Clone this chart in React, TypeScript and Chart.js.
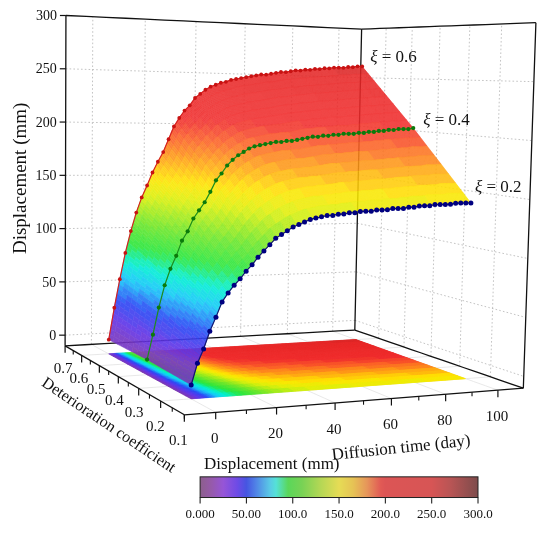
import React, { useEffect, useRef } from 'react';
import { Chart, registerables } from 'chart.js';

Chart.register(...registerables);

// ---- values ----
const timeDays = [
  0, 2, 4, 6, 8, 10, 12, 14, 16, 18, 20, 22, 24, 26, 28, 30, 32, 34, 36, 38, 40, 42, 44, 46, 48, 50,
  52, 54, 56, 58, 60, 62, 64, 66, 68, 70, 72, 74, 76, 78, 80, 82, 84, 86, 88, 90, 92, 94, 96, 98, 100,
];
const xiLevels = [0.2, 0.4, 0.6];
const dispXi02 = [
  1, 18, 29, 43, 54, 66, 73, 79, 84, 90, 95, 101, 106, 111, 116, 119, 122, 125, 127, 129, 131, 132,
  133, 134, 134, 135, 135, 136, 136, 137, 137, 137, 138, 138, 138, 139, 139, 139, 140, 140, 141, 141,
  141, 142, 142, 142, 142, 143, 143, 143, 143,
];
const dispXi04 = [
  3, 24, 47, 66, 80, 91, 104, 112, 123, 130, 137, 146, 156, 162, 169, 174, 178, 181, 184, 186, 187, 188,
  189, 190, 190, 191, 191, 192, 193, 194, 195, 195, 196, 196, 197, 197, 198, 198, 198, 199, 199, 200,
  200, 201, 201, 202, 202, 203, 203, 203, 204,
];
const dispXi06 = [
  3, 32, 58, 82, 102, 119, 133, 144, 156, 166, 175, 187, 199, 207, 214, 219, 226, 230, 234, 237, 239, 241,
  242, 244, 245, 246, 247, 248, 249, 250, 250, 251, 252, 253, 253, 254, 255, 255, 256, 256, 257, 257,
  258, 258, 259, 259, 259, 260, 260, 261, 261,
];

const zTicks = [0, 50, 100, 150, 200, 250, 300];
const zGridLevels = [0, 50, 100, 150, 200, 250];
const timeTicks = [0, 20, 40, 60, 80, 100];
const timeMinorTicks = [-10, 10, 30, 50, 70, 90];
const xiTicks = [0.1, 0.2, 0.3, 0.4, 0.5, 0.6, 0.7];
const xiMinorTicks = [0.15, 0.25, 0.35, 0.45, 0.55, 0.65];
const colorbarTicks = [0, 50, 100, 150, 200, 250, 300];
const colorbarLabels = ['0.000', '50.00', '100.0', '150.0', '200.0', '250.0', '300.0'];

const surfaceRows = [dispXi02, dispXi04, dispXi06];

const curves = [
  { xi: 0.6, values: dispXi06, line: '#d42020', point: '#c81212', radius: 1.9, label: [8, -9] },
  { xi: 0.4, values: dispXi04, line: '#1c8c1c', point: '#0b7a0b', radius: 2.1, label: [10, -8] },
  { xi: 0.2, values: dispXi02, line: '#14146e', point: '#000080', radius: 2.5, label: [4, -15] },
];

// ---- box / camera (view units = page pixels) ----
const T_RANGE = [-10, 110];
const XI_RANGE = [0.1, 0.7];
const Z_RANGE = [-10, 300];
// floor corners: (tMin,xiMin) (tMax,xiMin) (tMax,xiMax) (tMin,xiMax)
const FLOOR = [[183, 417], [527, 390], [356, 331], [62, 347]];
const NEAR_HEIGHT = 416;
const VERT_VANISH = [25, 15000];

function makeHomography(p: number[][]) {
  const [[x0, y0], [x1, y1], [x2, y2], [x3, y3]] = p;
  const dx1 = x1 - x2, dx2 = x3 - x2, dx3 = x0 - x1 + x2 - x3;
  const dy1 = y1 - y2, dy2 = y3 - y2, dy3 = y0 - y1 + y2 - y3;
  const den = dx1 * dy2 - dy1 * dx2;
  const g = (dx3 * dy2 - dy3 * dx2) / den;
  const h = (dx1 * dy3 - dy1 * dx3) / den;
  return {
    a: x1 - x0 + g * x1, b: x3 - x0 + h * x3, c: x0,
    d: y1 - y0 + g * y1, e: y3 - y0 + h * y3, f: y0, g, h,
  };
}
const H = makeHomography(FLOOR);

function project(t: number, xi: number, z: number) {
  const u = (t - T_RANGE[0]) / (T_RANGE[1] - T_RANGE[0]);
  const v = (xi - XI_RANGE[0]) / (XI_RANGE[1] - XI_RANGE[0]);
  const w = 1 + H.g * u + H.h * v;
  const fx = (H.a * u + H.b * v + H.c) / w;
  const fy = (H.d * u + H.e * v + H.f) / w;
  const hz = ((z - Z_RANGE[0]) / (Z_RANGE[1] - Z_RANGE[0])) * NEAR_HEIGHT / w;
  const lean = (fx - VERT_VANISH[0]) / (VERT_VANISH[1] - fy);
  return { x: fx + lean * hz, y: fy - hz, depth: w };
}

// ---- colour maps ----
const SURFACE_MAP = [
  [0, 125, 55, 175], [20, 100, 50, 230], [40, 40, 70, 245], [60, 20, 200, 250], [75, 0, 240, 210],
  [90, 40, 230, 60], [110, 110, 230, 40], [135, 220, 240, 10], [150, 255, 230, 0], [170, 255, 160, 20],
  [190, 250, 90, 40], [205, 240, 45, 45], [250, 232, 40, 40], [300, 160, 35, 35],
];
const BAR_MAP = [
  [0, 140, 95, 140], [12, 150, 90, 170], [25, 150, 85, 215], [40, 110, 75, 230], [50, 70, 85, 225],
  [60, 80, 130, 230], [75, 90, 200, 230], [82, 85, 225, 215], [95, 90, 215, 90], [110, 120, 210, 85],
  [130, 180, 215, 85], [150, 230, 220, 85], [165, 230, 195, 85], [180, 230, 150, 90], [195, 225, 90, 85],
  [200, 220, 85, 85], [250, 215, 85, 85], [270, 185, 85, 85], [300, 125, 75, 75],
];

function colorAt(map: number[][], val: number) {
  if (val <= map[0][0]) return `rgb(${map[0][1]},${map[0][2]},${map[0][3]})`;
  for (let i = 1; i < map.length; i++) {
    if (val <= map[i][0]) {
      const a = map[i - 1], b = map[i];
      const k = (val - a[0]) / (b[0] - a[0]);
      const c = [1, 2, 3].map((n) => Math.round(a[n] + (b[n] - a[n]) * k));
      return `rgb(${c[0]},${c[1]},${c[2]})`;
    }
  }
  const l = map[map.length - 1];
  return `rgb(${l[1]},${l[2]},${l[3]})`;
}
const bandColor = (z: number) => colorAt(SURFACE_MAP, Math.floor(z / 5) * 5 + 2.5);

// surface cells between the measured curves (sub-divided only for shading)
function buildCells() {
  const cells: { corners: { t: number; xi: number; z: number }[]; zMean: number; depth: number }[] = [];
  const NX = 8, NT = 6;
  for (let j = 0; j < xiLevels.length - 1; j++) {
    const za = surfaceRows[j], zb = surfaceRows[j + 1];
    for (let i = 0; i < timeDays.length - 1; i++) {
      const t0 = timeDays[i], t1 = timeDays[i + 1];
      for (let a = 0; a < NX; a++) {
        for (let b = 0; b < NT; b++) {
          const corners = [
            [b / NT, a / NX], [(b + 1) / NT, a / NX], [(b + 1) / NT, (a + 1) / NX], [b / NT, (a + 1) / NX],
          ].map(([r, s]) => {
            const zl = za[i] + (za[i + 1] - za[i]) * r;
            const zh = zb[i] + (zb[i + 1] - zb[i]) * r;
            return {
              t: t0 + (t1 - t0) * r,
              xi: xiLevels[j] + (xiLevels[j + 1] - xiLevels[j]) * s,
              z: zl + (zh - zl) * s,
            };
          });
          const zMean = corners.reduce((s, c) => s + c.z, 0) / 4;
          const tm = corners.reduce((s, c) => s + c.t, 0) / 4;
          const xm = corners.reduce((s, c) => s + c.xi, 0) / 4;
          cells.push({ corners, zMean, depth: project(tm, xm, Z_RANGE[0]).depth });
        }
      }
    }
  }
  cells.sort((p, q) => q.depth - p.depth);
  return cells;
}

const FONT = '"Liberation Serif", "Times New Roman", serif';

const scenePlugin = {
  id: 'scene3d',
  beforeDatasetsDraw(chart: any) {
    const ctx: CanvasRenderingContext2D = chart.ctx;
    const xs = chart.scales.x, ys = chart.scales.y;
    const P = (t: number, xi: number, z: number) => {
      const p = project(t, xi, z);
      return { x: xs.getPixelForValue(p.x), y: ys.getPixelForValue(p.y) };
    };
    const path3d = (fn: (k: number) => number[], color: string, width: number, dash: number[] = [], n = 16) => {
      ctx.save();
      ctx.beginPath();
      ctx.strokeStyle = color;
      ctx.lineWidth = width;
      ctx.setLineDash(dash);
      for (let k = 0; k <= n; k++) {
        const [t, xi, z] = fn(k / n);
        const p = P(t, xi, z);
        if (k === 0) ctx.moveTo(p.x, p.y); else ctx.lineTo(p.x, p.y);
      }
      ctx.stroke();
      ctx.restore();
    };
    const [t0, t1] = T_RANGE, [x0, x1] = XI_RANGE, [z0, z1] = Z_RANGE;
    const grid = '#b4b4b4';
    const dots = [1.6, 2.2];

    // floor grid
    timeTicks.forEach((t) => path3d((k) => [t, x0 + (x1 - x0) * k, z0], '#e2e2e2', 0.8));
    xiTicks.slice(1, -1).forEach((xi) => path3d((k) => [t0 + (t1 - t0) * k, xi, z0], '#e2e2e2', 0.8));
    // back-left wall grid
    zGridLevels.forEach((z) => path3d((k) => [t0 + (t1 - t0) * k, x1, z], grid, 0.8, dots));
    timeTicks.forEach((t) => path3d((k) => [t, x1, z0 + (z1 - z0) * k], grid, 0.8, dots));
    // right wall grid
    zGridLevels.forEach((z) => path3d((k) => [t1, x1 + (x0 - x1) * k, z], grid, 0.8, dots));
    xiTicks.slice(1, -1).forEach((xi) => path3d((k) => [t1, xi, z0 + (z1 - z0) * k], grid, 0.8, dots));

    // box edges at the back
    const edge = '#111';
    path3d((k) => [t0, x1, z0 + (z1 - z0) * k], edge, 1.3, [], 2);
    path3d((k) => [t1, x1, z0 + (z1 - z0) * k], edge, 1.3, [], 2);
    path3d((k) => [t1, x0, z0 + (z1 - z0) * k], edge, 1.3, [], 2);
    path3d((k) => [t0 + (t1 - t0) * k, x1, z1], edge, 1.3);
    path3d((k) => [t1, x1 + (x0 - x1) * k, z1], edge, 1.3);
    path3d((k) => [t0 + (t1 - t0) * k, x1, z0], edge, 1.3);
    path3d((k) => [t1, x1 + (x0 - x1) * k, z0], edge, 1.3);

    const cells = buildCells();
    const fillCell = (c2: CanvasRenderingContext2D, cell: any, onFloor: boolean) => {
      const col = bandColor(cell.zMean);
      c2.beginPath();
      cell.corners.forEach((c: any, i: number) => {
        const p = P(c.t, c.xi, onFloor ? z0 : c.z);
        if (i === 0) c2.moveTo(p.x, p.y); else c2.lineTo(p.x, p.y);
      });
      c2.closePath();
      c2.fillStyle = col;
      c2.strokeStyle = col;
      c2.lineWidth = 0.6;
      c2.fill();
      c2.stroke();
    };

    // projection map on the floor
    ctx.save();
    cells.forEach((cell) => fillCell(ctx, cell, true));
    ctx.restore();

    // translucent surface (drawn opaque off-screen, then blended)
    const dpr = chart.currentDevicePixelRatio || 1;
    const off = document.createElement('canvas');
    off.width = chart.canvas.width;
    off.height = chart.canvas.height;
    const octx = off.getContext('2d') as CanvasRenderingContext2D;
    octx.setTransform(dpr, 0, 0, dpr, 0, 0);
    cells.forEach((cell) => fillCell(octx, cell, false));
    ctx.save();
    ctx.setTransform(1, 0, 0, 1, 0, 0);
    ctx.globalAlpha = 0.91;
    ctx.drawImage(off, 0, 0);
    ctx.restore();
  },
  afterDatasetsDraw(chart: any) {
    const ctx: CanvasRenderingContext2D = chart.ctx;
    const xs = chart.scales.x, ys = chart.scales.y;
    const V = (x: number, y: number) => ({ x: xs.getPixelForValue(x), y: ys.getPixelForValue(y) });
    const P = (t: number, xi: number, z: number) => {
      const p = project(t, xi, z);
      return V(p.x, p.y);
    };
    const [t0, t1] = T_RANGE, [x0, x1] = XI_RANGE, [z0] = Z_RANGE;
    const seg = (a: any, b: any, color = '#111', width = 1.3) => {
      ctx.save();
      ctx.beginPath();
      ctx.strokeStyle = color;
      ctx.lineWidth = width;
      ctx.moveTo(a.x, a.y);
      ctx.lineTo(b.x, b.y);
      ctx.stroke();
      ctx.restore();
    };
    const text = (s: string, x: number, y: number, size: number, align: CanvasTextAlign = 'center', angle = 0, italic = false) => {
      ctx.save();
      ctx.translate(x, y);
      ctx.rotate((angle * Math.PI) / 180);
      ctx.font = `${italic ? 'italic ' : ''}${size}px ${FONT}`;
      ctx.fillStyle = '#111';
      ctx.textAlign = align;
      ctx.textBaseline = 'middle';
      ctx.fillText(s, 0, 0);
      ctx.restore();
    };

    // front axes
    seg(P(t0, x1, z0), P(t0, x0, z0));
    seg(P(t0, x0, z0), P(t1, x0, z0));

    // time axis
    timeTicks.forEach((t) => {
      const p = P(t, x0, z0);
      seg(p, { x: p.x, y: p.y + 7 }, '#111', 1.2);
      text(String(t), p.x - 1, p.y + 27, 15);
    });
    timeMinorTicks.forEach((t) => {
      const p = P(t, x0, z0);
      seg(p, { x: p.x, y: p.y + 4 }, '#111', 1.1);
    });
    const tl = V(403, 451);
    text('Diffusion time (day)', tl.x, tl.y, 17, 'center', -6);

    // deterioration coefficient axis
    xiTicks.forEach((xi) => {
      const p = P(t0, xi, z0);
      const near = (XI_RANGE[1] - xi) / (XI_RANGE[1] - XI_RANGE[0]);
      seg(p, { x: p.x, y: p.y + 7 }, '#111', 1.2);
      text(xi.toFixed(1), p.x - 2 - 4 * near, p.y + 23 + 3 * near, 15);
    });
    xiMinorTicks.forEach((xi) => {
      const p = P(t0, xi, z0);
      seg(p, { x: p.x, y: p.y + 4 }, '#111', 1.1);
    });
    const xl = V(106, 428);
    text('Deterioration coefficient', xl.x, xl.y, 16, 'center', 34);

    // displacement axis
    zTicks.forEach((z) => {
      const p = P(t0, x1, z);
      seg({ x: p.x - 6, y: p.y }, p, '#111', 1.2);
      text(String(z), p.x - 9, p.y + 1, 14, 'right');
    });
    const zl = V(17, 177);
    text('Displacement (mm)', zl.x, zl.y, 19, 'center', -90);

    // curve labels
    curves.forEach((c) => {
      const last = c.values.length - 1;
      const p = P(timeDays[last], c.xi, c.values[last]);
      const x = p.x + c.label[0], y = p.y + c.label[1];
      ctx.save();
      ctx.font = `italic 17px ${FONT}`;
      const w = ctx.measureText('ξ').width;
      ctx.restore();
      text('ξ', x, y, 17, 'left', 0, true);
      text(` = ${c.xi.toFixed(1)}`, x + w, y, 17, 'left');
    });

    // colour bar
    const left = V(199, 480), right = V(481, 501);
    const grad = ctx.createLinearGradient(left.x, 0, right.x, 0);
    BAR_MAP.forEach((s) => grad.addColorStop(s[0] / 300, `rgb(${s[1]},${s[2]},${s[3]})`));
    ctx.save();
    ctx.fillStyle = grad;
    ctx.fillRect(left.x, left.y, right.x - left.x, right.y - left.y);
    ctx.strokeStyle = '#222';
    ctx.lineWidth = 1;
    ctx.strokeRect(left.x, left.y, right.x - left.x, right.y - left.y);
    ctx.restore();
    colorbarTicks.forEach((v, i) => {
      const x = left.x + ((right.x - left.x) * v) / 300;
      seg({ x, y: right.y }, { x, y: right.y + 6 }, '#222', 1.1);
      text(colorbarLabels[i], x, right.y + 17, 13);
    });
    const ct = V(203, 468);
    text('Displacement (mm)', ct.x, ct.y, 17, 'left');
  },
};

export default function App() {
  const canvasRef = useRef<HTMLCanvasElement | null>(null);

  useEffect(() => {
    if (!canvasRef.current) return;
    const datasets = curves.map((c) => ({
      label: `xi = ${c.xi}`,
      data: timeDays.map((t, i) => {
        const p = project(t, c.xi, c.values[i]);
        return { x: p.x, y: p.y };
      }),
      showLine: true,
      borderColor: c.line,
      borderWidth: 1.2,
      backgroundColor: c.point,
      pointBackgroundColor: c.point,
      pointBorderWidth: 0,
      pointRadius: c.radius,
    }));

    const chart = new Chart(canvasRef.current, {
      type: 'scatter',
      data: { datasets },
      options: {
        animation: false,
        responsive: false,
        events: [],
        layout: { padding: 0 },
        scales: {
          x: { type: 'linear', min: 0, max: 550, display: false },
          y: { type: 'linear', min: 0, max: 536, reverse: true, display: false },
        },
        plugins: { legend: { display: false }, tooltip: { enabled: false } },
      },
      plugins: [scenePlugin],
    } as any);

    return () => chart.destroy();
  }, []);

  return (
    <div style={{ position: 'absolute', left: 0, top: 0, width: 550, height: 536, background: '#fff' }}>
      <canvas ref={canvasRef} width={550} height={536} style={{ display: 'block' }} />
    </div>
  );
}
